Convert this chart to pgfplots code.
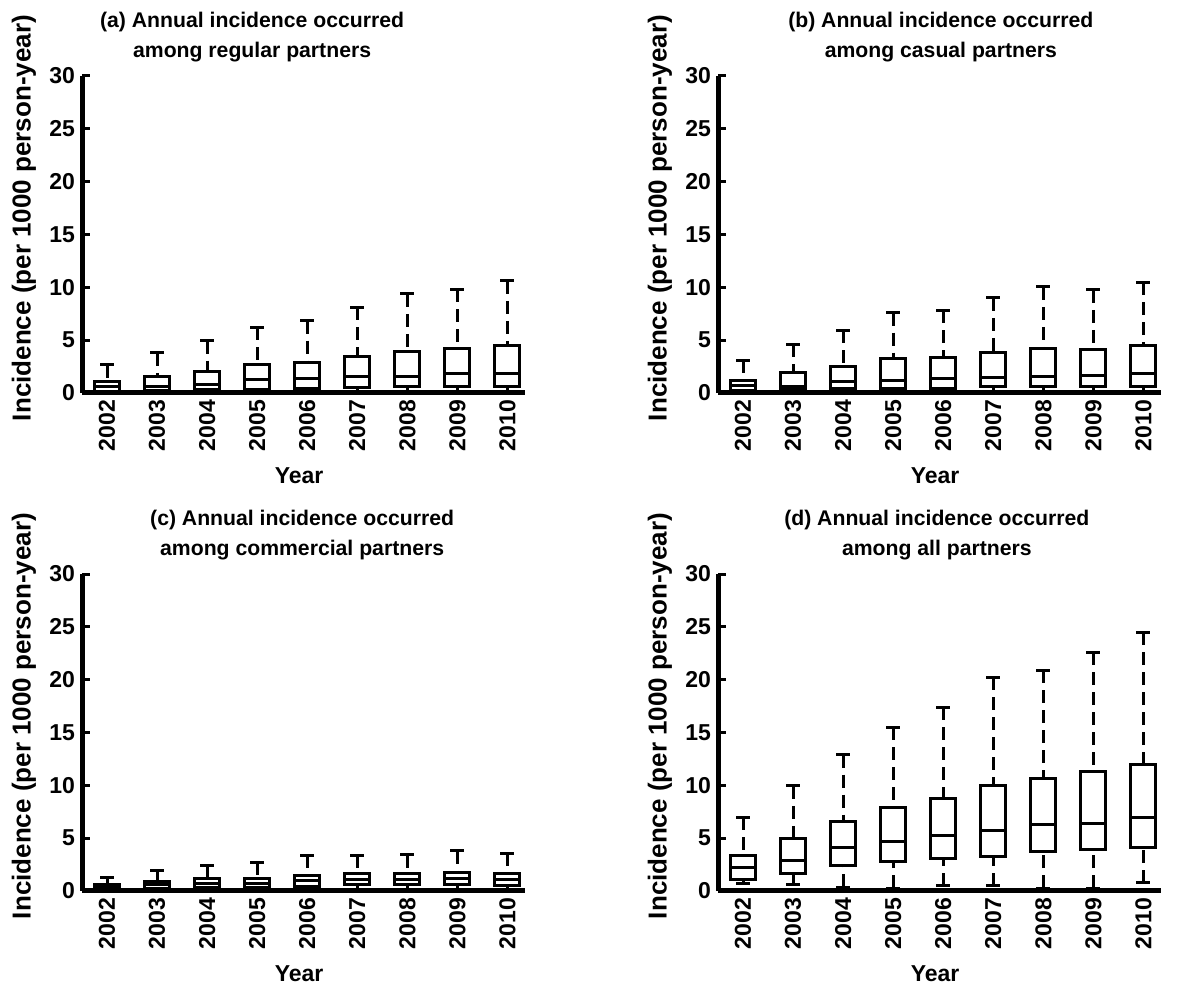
\documentclass[border=0pt]{standalone}
\usepackage{fontspec}
\setmainfont{Liberation Sans}
\usepackage{pgfplots}
\pgfplotsset{compat=1.18}
\usepgfplotslibrary{statistics}

% one box: position, lower whisker, lower quartile, median, upper quartile, upper whisker
\newcommand{\bx}[6]{%
  \addplot[boxplot prepared={draw position=#1, lower whisker=#2,
    lower quartile=#3, median=#4, upper quartile=#5, upper whisker=#6}]
    coordinates {};}

\pgfplotsset{
  /pgfplots/boxplot/draw/upper whisker/.code={%
    \draw[/pgfplots/boxplot/every whisker/.try]
      (boxplot cs:\pgfplotsboxplotvalue{upper whisker})
      -- (boxplot cs:\pgfplotsboxplotvalue{upper quartile});
    \draw[line width=1.5pt, solid]
      (boxplot whisker cs:\pgfplotsboxplotvalue{upper whisker},0)
      -- (boxplot whisker cs:\pgfplotsboxplotvalue{upper whisker},1);
  },
  /pgfplots/boxplot/draw/lower whisker/.code={%
    \draw[/pgfplots/boxplot/every whisker/.try]
      (boxplot cs:\pgfplotsboxplotvalue{lower whisker})
      -- (boxplot cs:\pgfplotsboxplotvalue{lower quartile});
    \draw[line width=1.5pt, solid]
      (boxplot whisker cs:\pgfplotsboxplotvalue{lower whisker},0)
      -- (boxplot whisker cs:\pgfplotsboxplotvalue{lower whisker},1);
  },
  panel/.style={
    scale only axis, width=221.5pt, height=158.5pt,
    anchor=south west, clip=false,
    xmin=0.5, xmax=9.35, ymin=0, ymax=30,
    axis lines=left,
    axis line style={line width=2.5pt, -},
    ytick={0,5,...,30},
    xtick={1,...,9},
    xticklabels={2002,2003,2004,2005,2006,2007,2008,2009,2010},
    x tick style={draw=none},
    y tick style={line width=1.5pt, black},
    tick align=inside, major tick length=4pt,
    every tick label/.append style={font=\fontsize{11.5}{12}\selectfont\bfseries},
    /pgf/number format/assume math mode=true,
    xticklabel style={rotate=90, anchor=east},
    xlabel={Year},
    xlabel style={at={(axis description cs:0.49,-0.262)}, anchor=center,
      font=\fontsize{11.5}{12}\selectfont\bfseries},
    ylabel={Incidence (per 1000 person-year)},
    ylabel style={at={(axis description cs:-0.131,0.552)}, anchor=center,
      font=\fontsize{13}{14}\selectfont\bfseries},
    title style={anchor=south, yshift=-2.5pt, align=center,
      font=\fontsize{10.6}{15}\selectfont\bfseries},
    boxplot/draw direction=y,
    boxplot/box extend=0.5,
    boxplot/whisker extend=0.28,
    boxplot/every box/.style={line width=1.5pt},
    boxplot/every median/.style={line width=1.5pt},
    boxplot/every whisker/.style={line width=1.5pt, dash pattern=on 6.5pt off 3.5pt},
  },
}

\begin{document}
\begin{tikzpicture}
\useasboundingbox (0,0) rectangle (600pt,498pt);

% (a)
\begin{axis}[panel, at={(41pt,301.5pt)},
  title={(a) Annual incidence occurred\\among regular partners},
  title style={at={(0.384,1)}}]
\bx{1}{0}{0.1}{0.6}{1.07}{2.65}
\bx{2}{0}{0.2}{0.66}{1.6}{3.8}
\bx{3}{0}{0.35}{0.82}{2.08}{4.95}
\bx{4}{0}{0.35}{1.23}{2.65}{6.2}
\bx{5}{0}{0.45}{1.35}{2.9}{6.85}
\bx{6}{0}{0.54}{1.55}{3.5}{8.1}
\bx{7}{0}{0.6}{1.6}{3.97}{9.37}
\bx{8}{0}{0.6}{1.8}{4.23}{9.8}
\bx{9}{0}{0.6}{1.86}{4.48}{10.6}
\end{axis}

% (b)
\begin{axis}[panel, at={(359pt,301.5pt)},
  title={(b) Annual incidence occurred\\among casual partners},
  title style={at={(0.503,1)}}]
\bx{1}{0}{0.2}{0.75}{1.2}{3.1}
\bx{2}{0}{0.35}{0.66}{1.9}{4.6}
\bx{3}{0}{0.45}{1.07}{2.5}{5.95}
\bx{4}{0}{0.45}{1.16}{3.25}{7.6}
\bx{5}{0}{0.45}{1.39}{3.37}{7.85}
\bx{6}{0}{0.6}{1.48}{3.8}{9.0}
\bx{7}{0}{0.6}{1.55}{4.23}{10.05}
\bx{8}{0}{0.6}{1.7}{4.13}{9.75}
\bx{9}{0}{0.6}{1.8}{4.5}{10.5}
\end{axis}

% (c)
\begin{axis}[panel, at={(41pt,52.5pt)},
  title={(c) Annual incidence occurred\\among commercial partners},
  title style={at={(0.497,1)}}]
\bx{1}{0}{0.15}{0.4}{0.63}{1.3}
\bx{2}{0}{0.22}{0.57}{0.87}{1.9}
\bx{3}{0}{0.3}{0.75}{1.14}{2.46}
\bx{4}{0}{0.3}{0.75}{1.14}{2.7}
\bx{5}{0}{0.4}{1.04}{1.5}{3.4}
\bx{6}{0}{0.57}{1.1}{1.67}{3.4}
\bx{7}{0}{0.57}{1.1}{1.67}{3.45}
\bx{8}{0}{0.57}{1.2}{1.77}{3.8}
\bx{9}{0}{0.55}{1.1}{1.67}{3.57}
\end{axis}

% (d)
\begin{axis}[panel, at={(359pt,52.5pt)},
  title={(d) Annual incidence occurred\\among all partners},
  title style={at={(0.494,1)}}]
\bx{1}{0.72}{1.12}{2.2}{3.4}{7.0}
\bx{2}{0.66}{1.69}{2.9}{5.0}{9.96}
\bx{3}{0.35}{2.44}{4.1}{6.6}{12.9}
\bx{4}{0.28}{2.75}{4.66}{7.87}{15.5}
\bx{5}{0.5}{3.1}{5.25}{8.72}{17.4}
\bx{6}{0.5}{3.3}{5.72}{10.0}{20.25}
\bx{7}{0.28}{3.78}{6.28}{10.6}{20.9}
\bx{8}{0.28}{3.94}{6.37}{11.28}{22.6}
\bx{9}{0.8}{4.1}{7.0}{12.0}{24.5}
\end{axis}
\end{tikzpicture}
\end{document}
